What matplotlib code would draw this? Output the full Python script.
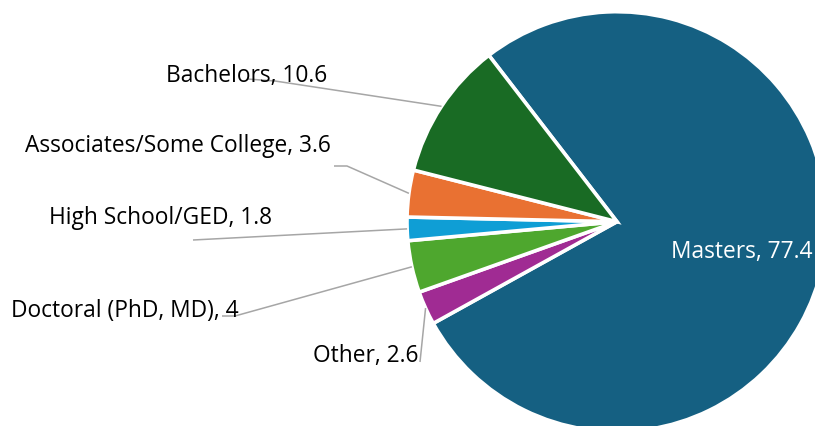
import numpy as np
import matplotlib
matplotlib.use("Agg")
import matplotlib.pyplot as plt

# Degree distribution (percent)
categories = ["Masters", "Other", "Doctoral (PhD, MD)", "High School/GED",
              "Associates/Some College", "Bachelors"]
values = [77.4, 2.6, 4, 1.8, 3.6, 10.6]
value_labels = ["77.4", "2.6", "4", "1.8", "3.6", "10.6"]
colors = ["#156082", "#A02B93", "#4EA72E", "#0F9ED5", "#E97132", "#196B24"]

W, H, DPI = 815, 427, 100
R_PX = 210.0
CX, CY = 617.0, 222.7


def px(x, y):
    """Pixel layout position -> data units (pie radius = 1)."""
    return (x - CX) / R_PX, (CY - y) / R_PX


fig = plt.figure(figsize=(W / DPI, H / DPI), dpi=DPI)
ax = fig.add_axes([0, 0, 1, 1])

START = 127.6
wedges, _ = ax.pie(values, colors=colors, startangle=START, counterclock=False,
                   radius=1.0, center=(0, 0), frame=True,
                   wedgeprops=dict(edgecolor="white", linewidth=2.6))
ax.set_xlim(-CX / R_PX, (W - CX) / R_PX)
ax.set_ylim(-(H - CY) / R_PX, CY / R_PX)
ax.set_aspect("equal")
ax.axis("off")

FONT = "Open Sans"
FS = 16.4
LINE = "#A6A6A6"

# label anchor (x, baseline y) and leader elbow points, in pixel layout
layout = {
    "Masters": dict(text=(742, 257.7), ha="center"),
    "Other": dict(text=(313, 361.7), path=[(420, 363)]),
    "Doctoral (PhD, MD)": dict(text=(11, 316.7), path=[(222, 317), (235, 317)]),
    "High School/GED": dict(text=(49, 224), path=[(193, 241)]),
    "Associates/Some College": dict(text=(25, 151.7), path=[(334, 167), (347, 167)]),
    "Bachelors": dict(text=(166, 81.7), path=[(247, 80), (275, 82)]),
}

for w, cat, lab in zip(wedges, categories, value_labels):
    mid = np.deg2rad((w.theta1 + w.theta2) / 2)
    spec = layout[cat]
    tx, ty = px(*spec["text"])
    inside = "path" not in spec
    ax.text(tx, ty, f"{cat}, {lab}", color="white" if inside else "black",
            fontsize=FS, family=FONT, ha=spec.get("ha", "left"), va="baseline",
            zorder=4)
    if inside:
        continue
    pts = [px(*p) for p in spec["path"]] + [(np.cos(mid), np.sin(mid))]
    xs, ys = zip(*pts)
    ax.plot(xs, ys, color=LINE, lw=1.1, zorder=3, solid_capstyle="butt")

fig.savefig("out.png", dpi=DPI, facecolor="white")
